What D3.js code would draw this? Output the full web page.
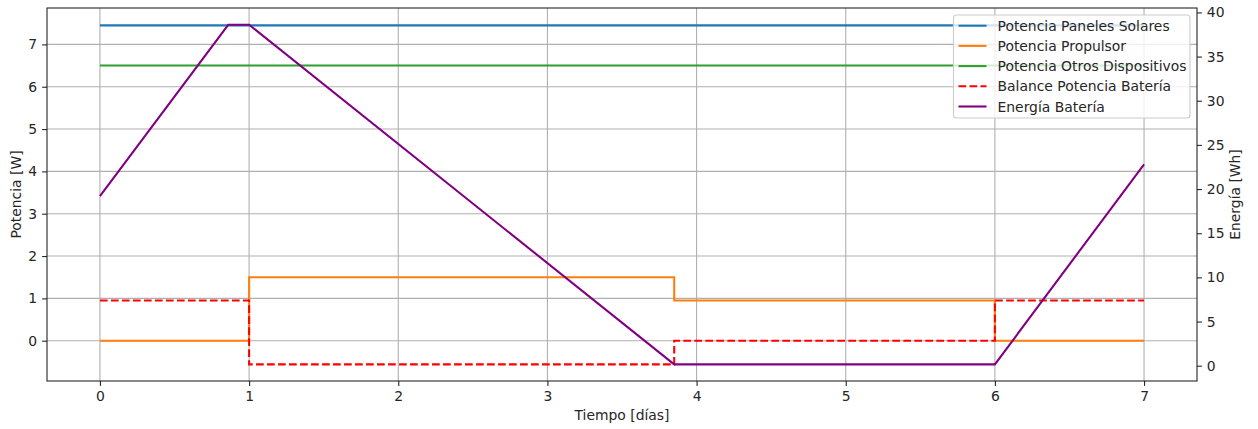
<!DOCTYPE html>
<html><head><meta charset="utf-8">
<script src="https://cdn.jsdelivr.net/npm/d3@7"></script>
<style>body{margin:0;background:#fff}svg{display:block;font-family:"DejaVu Sans",sans-serif}</style>
</head><body><svg id="c" width="1258" height="429"></svg>
<script>
const tiempo = [0, 1, 3.85, 6, 7];
const solares = [7.45, 7.45, 7.45, 7.45, 7.45];
const propulsor = [0, 1.5, 0.95, 0, 0];
const otros = [6.5, 6.5, 6.5, 6.5, 6.5];
const balance = [0.95, -0.56, 0, 0.95, 0.95];
const energiaT = [0, 0.86, 1, 3.85, 6, 7];
const energia = [19.2, 38.6, 38.6, 0.15, 0.15, 22.8];
const xTicks = [0, 1, 2, 3, 4, 5, 6, 7];
const yTicks = [0, 1, 2, 3, 4, 5, 6, 7];
const y2Ticks = [0, 5, 10, 15, 20, 25, 30, 35, 40];
const legendLabels = ["Potencia Paneles Solares", "Potencia Propulsor", "Potencia Otros Dispositivos", "Balance Potencia Batería", "Energía Batería"];

const L = 47, R = 1197, T = 8, B = 381;
const svg = d3.select("#c");
const x = d3.scaleLinear().domain([-0.355, 7.355]).range([L, R]);
const y = d3.scaleLinear().domain([-0.952, 7.86]).range([B, T]);
const y2 = d3.scaleLinear().domain([-1.73, 40.5]).range([B, T]);

// grid
const g = svg.append("g");
xTicks.forEach(t => g.append("line").attr("x1", x(t)).attr("x2", x(t)).attr("y1", T).attr("y2", B).attr("stroke", "#b0b0b0").attr("stroke-width", 1.1));
yTicks.forEach(t => g.append("line").attr("x1", L).attr("x2", R).attr("y1", y(t)).attr("y2", y(t)).attr("stroke", "#b0b0b0").attr("stroke-width", 1.1));

const fs = 13.9;
// axes
const ax = svg.append("g").attr("transform", `translate(0,${B})`).call(d3.axisBottom(x).tickValues(xTicks).tickSize(4.9).tickPadding(4.9).tickFormat(d3.format("d")));
const ay = svg.append("g").attr("transform", `translate(${L},0)`).call(d3.axisLeft(y).tickValues(yTicks).tickSize(4.9).tickPadding(4.9).tickFormat(d3.format("d")));
const ay2 = svg.append("g").attr("transform", `translate(${R},0)`).call(d3.axisRight(y2).tickValues(y2Ticks).tickSize(4.9).tickPadding(4.9).tickFormat(d3.format("d")));
[ax, ay, ay2].forEach(a => {
  a.select(".domain").remove();
  a.selectAll("text").attr("font-size", fs).attr("font-family", "DejaVu Sans").attr("fill", "#262626");
  a.selectAll("line").attr("stroke", "#262626").attr("stroke-width", 1.1);
});

const line = d3.line().x(d => x(d[0])).y(d => y(d[1]));
const step = d3.line().curve(d3.curveStepAfter).x(d => x(d[0])).y(d => y(d[1]));
const pts = arr => tiempo.map((t, i) => [t, arr[i]]);
const p = svg.append("g").attr("fill", "none").attr("stroke-width", 2.08);
p.append("path").attr("d", line(pts(solares))).attr("stroke", "#1f77b4");
p.append("path").attr("d", step(pts(propulsor))).attr("stroke", "#ff7f0e");
p.append("path").attr("d", line(pts(otros))).attr("stroke", "#2ca02c");
p.append("path").attr("d", step(pts(balance))).attr("stroke", "#ff0000").attr("stroke-dasharray", "7.7,3.3");
const line2 = d3.line().x(d => x(d[0])).y(d => y2(d[1]));
p.append("path").attr("d", line2(energiaT.map((t, i) => [t, energia[i]]))).attr("stroke", "#800080");

// frame
svg.append("rect").attr("x", L).attr("y", T).attr("width", R - L).attr("height", B - T).attr("fill", "none").attr("stroke", "#262626").attr("stroke-width", 1.1);

// labels
svg.append("text").attr("x", (L + R) / 2).attr("y", 420).attr("text-anchor", "middle").attr("font-size", fs).attr("fill", "#262626").text("Tiempo [días]");
svg.append("text").attr("transform", `translate(21,${(T + B) / 2}) rotate(-90)`).attr("text-anchor", "middle").attr("font-size", fs).attr("fill", "#262626").text("Potencia [W]");
svg.append("text").attr("transform", `translate(1240,${(T + B) / 2}) rotate(-90)`).attr("text-anchor", "middle").attr("font-size", fs).attr("fill", "#262626").text("Energía [Wh]");

// legend
const lg = svg.append("g");
lg.append("rect").attr("x", 953.5).attr("y", 15).attr("width", 236.5).attr("height", 103).attr("rx", 3).attr("fill", "#fff").attr("fill-opacity", 0.8).attr("stroke", "#cccccc").attr("stroke-width", 1.1);
const styles = [["#1f77b4", null], ["#ff7f0e", null], ["#2ca02c", null], ["#ff0000", "7.7,3.3"], ["#800080", null]];
legendLabels.forEach((lab, i) => {
  const yy = 25.7 + i * 20.2;
  const l = lg.append("line").attr("x1", 958.5).attr("x2", 986.5).attr("y1", yy).attr("y2", yy).attr("stroke", styles[i][0]).attr("stroke-width", 2.08);
  if (styles[i][1]) l.attr("stroke-dasharray", styles[i][1]);
  lg.append("text").attr("x", 997.5).attr("y", yy).attr("dy", "0.36em").attr("font-size", fs).attr("fill", "#262626").text(lab);
});
</script></body></html>
